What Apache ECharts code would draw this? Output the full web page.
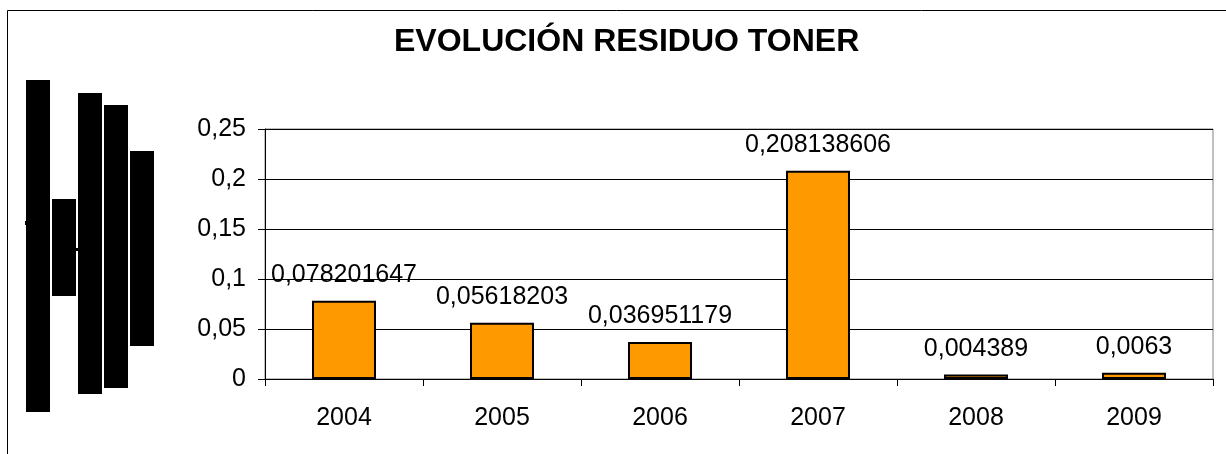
<!DOCTYPE html>
<html>
<head>
<meta charset="utf-8">
<script src="https://cdn.jsdelivr.net/npm/echarts@6/dist/echarts.min.js"></script>
<style>html,body{margin:0;padding:0;background:#fff}#c{width:1226px;height:454px}</style>
</head>
<body>
<div id="c"></div>
<script>
var categories = ['2004', '2005', '2006', '2007', '2008', '2009'];
var residuoToner = [0.078201647, 0.05618203, 0.036951179, 0.208138606, 0.004389, 0.0063];
var yTicks = [0, 0.05, 0.1, 0.15, 0.2, 0.25];
var titleText = 'EVOLUCIÓN RESIDUO TONER';

function comma(v) { return String(v).replace('.', ','); }

var chart = echarts.init(document.getElementById('c'), null, {renderer: 'canvas'});
var FONT = '"Liberation Sans", Arial, sans-serif';

var blocks = [
  [26, 80, 24, 332], [52, 199, 24, 97], [78, 93, 24, 301], [104, 105, 24, 283], [130, 151, 24, 195],
  [25, 221, 2, 4], [76, 248, 2, 3]
];
var graphics = [{
  type: 'polyline', silent: true,
  shape: {points: [[7.5, 454], [7.5, 10.5], [1226, 10.5]]},
  style: {stroke: '#000', lineWidth: 1, fill: null}
}];
blocks.forEach(function (b) {
  graphics.push({type: 'rect', silent: true, shape: {x: b[0], y: b[1], width: b[2], height: b[3]}, style: {fill: '#000'}});
});

chart.setOption({
  backgroundColor: '#fff',
  animation: false,
  title: {
    text: titleText, left: 389, top: 21,
    textStyle: {fontFamily: FONT, fontSize: 32, fontWeight: 'bold', color: '#000'}
  },
  grid: {left: 265, top: 129, right: 13, bottom: 75, show: true, borderColor: '#808080', borderWidth: 1, containLabel: false},
  xAxis: {
    type: 'category', data: categories,
    axisLine: {lineStyle: {color: '#000', width: 1}},
    axisTick: {show: true, length: 7, lineStyle: {color: '#000'}},
    axisLabel: {fontFamily: FONT, fontSize: 25, color: '#000', margin: 27}
  },
  yAxis: {
    type: 'value', min: 0, max: 0.25, interval: 0.05,
    axisLine: {show: true, lineStyle: {color: '#000', width: 1}},
    axisTick: {show: true, length: 7, lineStyle: {color: '#000'}},
    axisLabel: {fontFamily: FONT, fontSize: 25, color: '#000', margin: 19,
      formatter: function (v) { return comma(+v.toFixed(2)); }},
    splitLine: {show: true, lineStyle: {color: '#000', width: 1}}
  },
  series: [{
    type: 'bar', data: residuoToner, barWidth: '40.5%',
    itemStyle: {color: '#FF9900', borderColor: '#000', borderWidth: 2},
    label: {show: true, position: 'top', distance: 13, fontFamily: FONT, fontSize: 25, color: '#000',
      formatter: function (p) { return comma(p.value); }}
  }],
  graphic: graphics
});
</script>
</body>
</html>
